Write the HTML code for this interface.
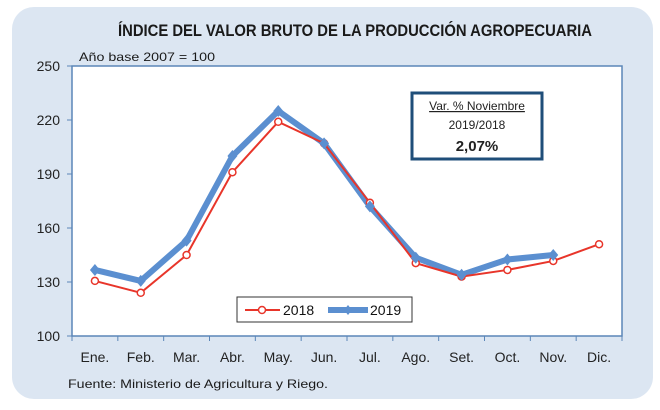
<!DOCTYPE html>
<html><head><meta charset="utf-8"><style>
body{margin:0;background:#fff;}
svg{display:block;font-family:"Liberation Sans",sans-serif;}
</style></head><body>
<svg id="c" width="660" height="410" viewBox="0 0 660 410">
<rect x="12" y="7" width="641" height="392" rx="22" fill="#dce6f2"/>
<text x="118" y="36" font-size="17" font-weight="bold" fill="#1a1a1a" textLength="474" lengthAdjust="spacingAndGlyphs">ÍNDICE DEL VALOR BRUTO DE LA PRODUCCIÓN AGROPECUARIA</text>
<text x="79" y="61" font-size="12" fill="#1a1a1a" textLength="136" lengthAdjust="spacingAndGlyphs">Año base  2007  =  100</text>
<rect x="72" y="66" width="550" height="270" fill="#fff" stroke="#5b86b8" stroke-width="1.5"/>
<g id="ax"></g>
<g id="series"></g>
<rect x="412" y="93" width="130" height="66" fill="#fff" stroke="#1f4e79" stroke-width="3"/>
<text x="477" y="110" text-anchor="middle" font-size="12" fill="#222" text-decoration="underline">Var. % Noviembre</text>
<text x="477" y="129" text-anchor="middle" font-size="12" fill="#222">2019/2018</text>
<text x="477" y="151" text-anchor="middle" font-size="15" font-weight="bold" fill="#222">2,07%</text>
<g>
<rect x="237" y="297" width="175" height="25" fill="#fff" stroke="#333" stroke-width="1"/>
<line x1="245" y1="310" x2="280" y2="310" stroke="#e8352a" stroke-width="2"/>
<circle cx="262" cy="310" r="3.5" fill="#fff" stroke="#e8352a" stroke-width="1.5"/>
<text x="283" y="315" font-size="14" fill="#111">2018</text>
<line x1="328" y1="310" x2="368" y2="310" stroke="#5b8fd0" stroke-width="6"/>
<path d="M348 305 L352 310 L348 315 L344 310Z" fill="#5b8fd0"/>
<text x="370" y="315" font-size="14" fill="#111">2019</text>
</g>
<text x="68" y="388" font-size="12" fill="#1a1a1a" textLength="260" lengthAdjust="spacingAndGlyphs">Fuente: Ministerio de Agricultura y Riego.</text>
</svg>
<script>
const categories=["Ene.","Feb.","Mar.","Abr.","May.","Jun.","Jul.","Ago.","Set.","Oct.","Nov.","Dic."];
const values2018=[130.6,124,145,191,219,207,174,140.5,133,136.7,141.7,151];
const values2019=[136.7,130.6,153,200,225,207,172,143.5,134,142.5,145];
const yTicks=[100,130,160,190,220,250];
const NS="http://www.w3.org/2000/svg";
const L=72,R=622,T=66,B=336,yMin=100,yMax=250;
const bw=(R-L)/categories.length;
function xS(i){return L+bw*(i+0.5);}
function yS(v){return B-(v-yMin)/(yMax-yMin)*(B-T);}
function mk(t,a,p){const e=document.createElementNS(NS,t);for(const k in a)e.setAttribute(k,a[k]);p.appendChild(e);return e;}
const ax=document.getElementById('ax');
yTicks.forEach(v=>{
  const t=mk('text',{x:L-12,y:yS(v)+5,'text-anchor':'end','font-size':14,fill:'#222'},ax);
  t.textContent=v;
  
  
  mk('line',{x1:L-5,x2:L,y1:yS(v),y2:yS(v),stroke:'#5b86b8'},ax);
});
categories.forEach((c,i)=>{
  const t=mk('text',{x:xS(i),y:362,'text-anchor':'middle','font-size':14,fill:'#222'},ax);
  t.textContent=c;
  
  
  mk('line',{x1:L+bw*i,x2:L+bw*i,y1:B,y2:B+5,stroke:'#5b86b8'},ax);
});
mk('line',{x1:R,x2:R,y1:B,y2:B+5,stroke:'#5b86b8'},ax);
const sg=document.getElementById('series');
const p18=values2018.map((v,i)=>xS(i)+','+yS(v)).join(' ');
const p19=values2019.map((v,i)=>xS(i)+','+yS(v)).join(' ');
const l19=mk('polyline',{points:p19,fill:'none',stroke:'#5b8fd0','stroke-width':6,'stroke-linejoin':'round'},sg);


const l18=mk('polyline',{points:p18,fill:'none',stroke:'#e8352a','stroke-width':2},sg);


values2018.forEach((v,i)=>{
  const c=mk('circle',{cx:xS(i),cy:yS(v),r:3.5,fill:'#fff',stroke:'#e8352a','stroke-width':1.5},sg);
  
  
});
values2019.forEach((v,i)=>{
  const x=xS(i),y=yS(v);
  const d=mk('path',{d:`M${x} ${y-6}L${x+5} ${y}L${x} ${y+6}L${x-5} ${y}Z`,fill:'#5b8fd0'},sg);
  
  
});
</script>
</body></html>
